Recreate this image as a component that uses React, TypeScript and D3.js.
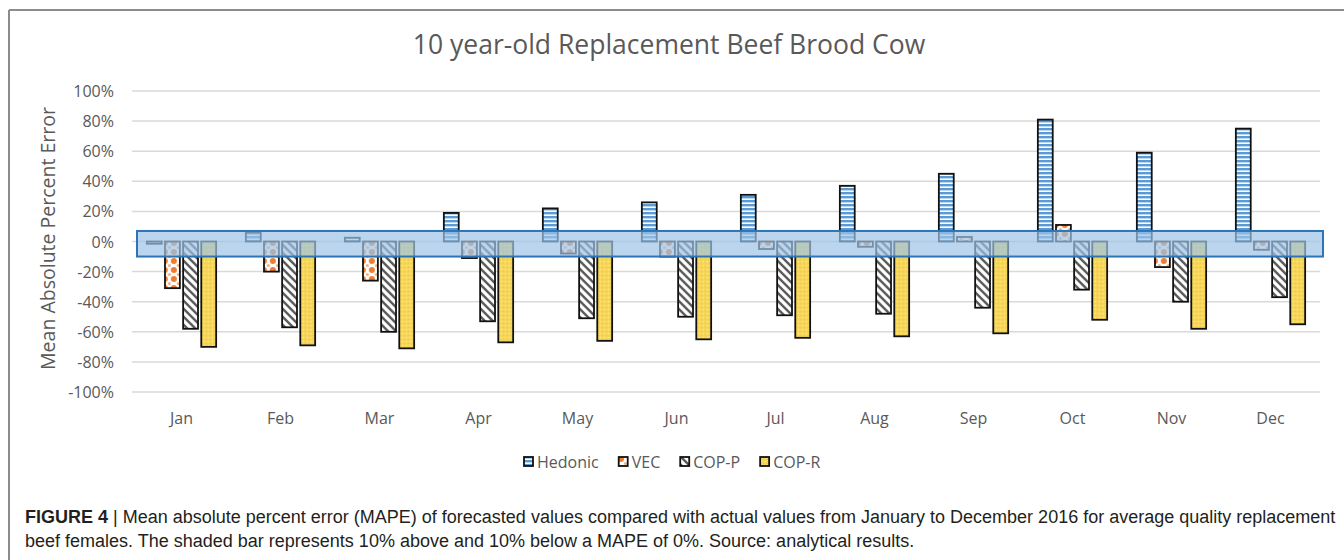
import React from "react";
import * as d3 from "d3";

const months = ["Jan", "Feb", "Mar", "Apr", "May", "Jun", "Jul", "Aug", "Sep", "Oct", "Nov", "Dec"];
const seriesNames = ["Hedonic", "VEC", "COP-P", "COP-R"];

// values in percent
const hedonic = [-1.5, 6, 2.5, 19, 22, 26, 31, 37, 45, 81, 59, 75];
const vec = [-31, -20, -26, -11, -8, -10, -5, -3.5, 3, 11, -17, -5.5];
const copP = [-58, -57, -60, -53, -51, -50, -49, -48, -44, -32, -40, -37];
const copR = [-70, -69, -71, -67, -66, -65, -64, -63, -61, -52, -58, -55];

const yTicks = [100, 80, 60, 40, 20, 0, -20, -40, -60, -80, -100];
// shaded band around zero (as drawn)
const bandHigh = 7;
const bandLow = -10;

const fills = ["url(#pHed)", "url(#pVec)", "url(#pCopP)", "url(#pCopR)"];
const allSeries = [hedonic, vec, copP, copR];

const FONT = "'Open Sans', sans-serif";
const GREY = "#595959";
const LEGEND_FONT_SIZE = 16;

function textWidth(s: string, size: number) {
  const ctx = document.createElement("canvas").getContext("2d");
  if (!ctx) return s.length * size * 0.55;
  ctx.font = `${size}px 'Open Sans'`;
  return ctx.measureText(s).width;
}

export default function App() {
  const width = 1344;
  const height = 560;
  const margin = { top: 91, right: 24, bottom: 168, left: 132 };

  const x0 = d3
    .scaleBand<string>()
    .domain(months)
    .range([margin.left, width - margin.right])
    .paddingInner(0.3)
    .paddingOuter(0.15);

  const x1 = d3
    .scaleBand<string>()
    .domain(seriesNames)
    .range([0, x0.bandwidth()])
    .paddingInner(0.18);

  const y = d3
    .scaleLinear()
    .domain([-100, 100])
    .range([height - margin.bottom, margin.top]);

  const [gx0, gx1] = x0.range();

  // legend layout: marker + label, items laid out left to right
  const swatch = 10;
  const itemGap = 20;
  const widths = seriesNames.map((s) => swatch + 3 + textWidth(s, LEGEND_FONT_SIZE));
  const legendStart = 524;
  const legendPos = widths.map((_, i) => legendStart + d3.sum(widths.slice(0, i)) + i * itemGap);

  return (
    <div style={{ position: "absolute", left: 0, top: 0 }}>
      <svg width={width} height={height} style={{ display: "block", background: "#fff" }}>
        <defs>
          <pattern id="pHed" patternUnits="userSpaceOnUse" width="4" height="4">
            <rect width="4" height="4" fill="#fff" />
            <rect width="4" height="2.4" fill="#5B9BD5" />
          </pattern>
          <pattern id="pVec" patternUnits="userSpaceOnUse" width="9" height="9">
            <rect width="9" height="9" fill="#fff" />
            <circle cx="0" cy="0" r="3" fill="#ED7D31" />
            <circle cx="9" cy="0" r="3" fill="#ED7D31" />
            <circle cx="0" cy="9" r="3" fill="#ED7D31" />
            <circle cx="9" cy="9" r="3" fill="#ED7D31" />
            <circle cx="4.5" cy="4.5" r="1.6" fill="#F4B183" />
          </pattern>
          <pattern id="pCopP" patternUnits="userSpaceOnUse" width="8" height="8">
            <rect width="8" height="8" fill="#fff" />
            <path d="M-2,6 L2,10 M0,0 L8,8 M6,-2 L10,2" stroke="#595959" strokeWidth="2.4" />
          </pattern>
          <pattern id="pCopR" patternUnits="userSpaceOnUse" width="4" height="4">
            <rect width="4" height="4" fill="#F5D65A" />
            <rect x="1" y="1" width="1" height="1" fill="#FCEFB4" />
            <rect x="3" y="3" width="1" height="1" fill="#EBC744" />
          </pattern>
        </defs>

        {/* frame */}
        <line x1={9} x2={9} y1={10} y2={height} stroke="#8c8c8c" strokeWidth={2} />
        <line x1={9} x2={width} y1={10} y2={10} stroke="#8c8c8c" strokeWidth={2} />

        {/* title */}
        <text x={669} y={54} textAnchor="middle" fontFamily={FONT} fontSize={26.5} fill={GREY}>
          10 year-old Replacement Beef Brood Cow
        </text>

        {/* gridlines + y ticks */}
        {yTicks.map((t) => (
          <g key={t}>
            <line x1={gx0} x2={gx1} y1={y(t)} y2={y(t)} stroke="#D9D9D9" strokeWidth={1.5} />
            <text
              x={114}
              y={y(t)}
              textAnchor="end"
              dominantBaseline="central"
              fontFamily={FONT}
              fontSize={16}
              fill={GREY}
            >
              {t}%
            </text>
          </g>
        ))}

        {/* y axis title */}
        <text
          transform={`translate(47, ${y(2)}) rotate(-90)`}
          textAnchor="middle"
          dominantBaseline="central"
          fontFamily={FONT}
          fontSize={19.5}
          fill={GREY}
        >
          Mean Absolute Percent Error
        </text>

        {/* bars */}
        {months.map((m, i) => (
          <g key={m} transform={`translate(${x0(m)},0)`}>
            {seriesNames.map((s, k) => {
              const v = allSeries[k][i];
              const top = y(Math.max(0, v));
              const h = Math.abs(y(v) - y(0));
              return (
                <rect
                  key={s}
                  x={x1(s)}
                  y={top}
                  width={x1.bandwidth()}
                  height={h}
                  fill={fills[k]}
                  stroke="#111"
                  strokeWidth={1.8}
                />
              );
            })}
          </g>
        ))}

        {/* shaded band */}
        <rect
          x={gx0 + 5}
          y={y(bandHigh)}
          width={gx1 - gx0 - 2}
          height={y(bandLow) - y(bandHigh)}
          fill="#9DC3E6"
          fillOpacity={0.7}
          stroke="#2E75B6"
          strokeWidth={2}
        />

        {/* month labels */}
        {months.map((m) => (
          <text
            key={m}
            x={(x0(m) as number) + x0.bandwidth() / 2}
            y={418}
            textAnchor="middle"
            dominantBaseline="central"
            fontFamily={FONT}
            fontSize={16}
            fill={GREY}
          >
            {m}
          </text>
        ))}

        {/* legend */}
        {seriesNames.map((s, k) => {
          const lx = legendPos[k];
          return (
            <g key={s}>
              <rect x={lx} y={457} width={swatch - 1} height={swatch - 1} fill={fills[k]} stroke="#111" strokeWidth={1.8} />
              <text
                x={lx + swatch + 3}
                y={462}
                dominantBaseline="central"
                fontFamily={FONT}
                fontSize={LEGEND_FONT_SIZE}
                fill={GREY}
              >
                {s}
              </text>
            </g>
          );
        })}

        {/* caption */}
        <text x={25} y={523} fontFamily="'Liberation Sans', Arial, sans-serif" fontSize={18} fill="#231f20">
          <tspan fontWeight="bold">FIGURE 4</tspan>
          <tspan> | Mean absolute percent error (MAPE) of forecasted values compared with actual values from January to December 2016 for average quality replacement</tspan>
        </text>
        <text x={25} y={547} fontFamily="'Liberation Sans', Arial, sans-serif" fontSize={18} fill="#231f20">
          beef females. The shaded bar represents 10% above and 10% below a MAPE of 0%. Source: analytical results.
        </text>
      </svg>
    </div>
  );
}
